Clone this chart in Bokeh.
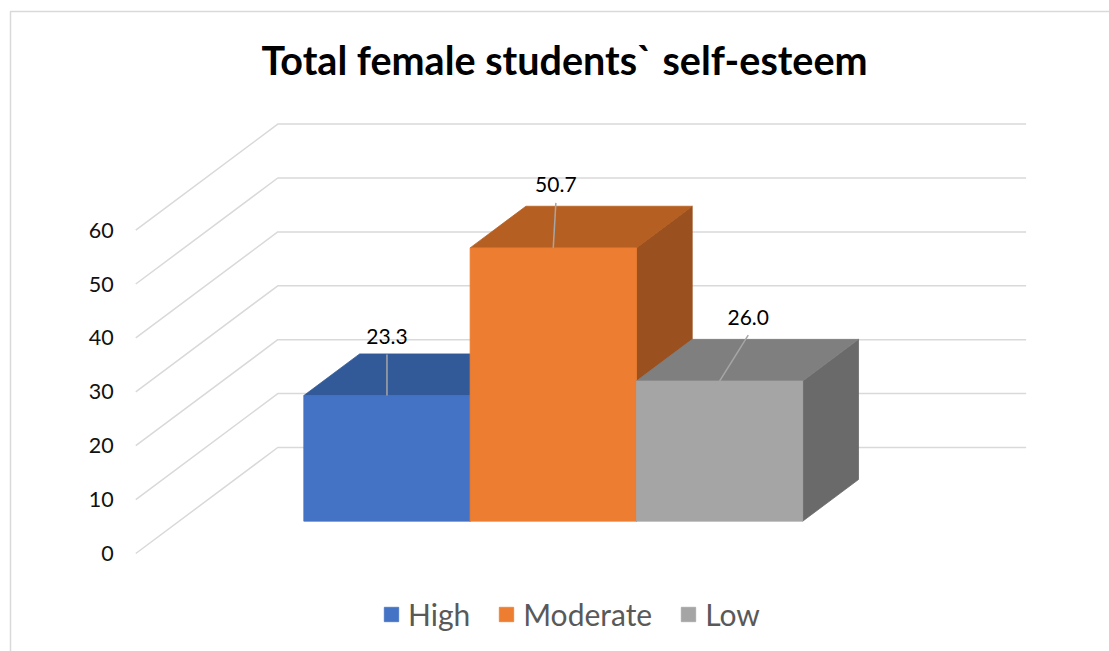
from bokeh.plotting import figure
from bokeh.models import Range1d, Legend, LegendItem
from bokeh.embed import file_html
from bokeh.resources import INLINE
from bokeh.core.properties import value

# ---------------- data ----------------
title_text = "Total female students` self-esteem"
series = ["High", "Moderate", "Low"]
values = [23.3, 50.7, 26.0]
value_labels = ["23.3", "50.7", "26.0"]
y_ticks = [0, 10, 20, 30, 40, 50, 60]
tick_labels = ["0", "10", "20", "30", "40", "50", "60"]

# ---------------- style ----------------
front_colors = ["#4472C4", "#ED7D31", "#A5A5A5"]
top_colors = ["#335A98", "#B55F22", "#7F7F7F"]
side_colors = ["#2B4C85", "#9A501F", "#6A6A6A"]
GRID = "#D9D9D9"
FONT = "Lato"

W, H = 1109, 651
BAR_PX = 166.3            # px per category unit
VAL_PX = 5.39             # px per value unit
ORX, ORY = 260.0, 553.0   # screen pos (from top-left) of u=0, v=0, z=0
DEPX, DEPY = 142.0, -106.0  # screen shift from front (z=0) to back wall (z=1)
U_LEFT, U_RIGHT = -0.75, 3.75
Z_F, Z_B = 0.305, 0.698   # bar front / back depth


def sx(px):
    return (px - ORX) / BAR_PX


def sy(py):
    return (ORY - py) / VAL_PX


def proj(u, v, z):
    return (u + z * DEPX / BAR_PX, v - z * DEPY / VAL_PX)


p = figure(width=W, height=H, output_backend="svg", toolbar_location=None,
           x_range=Range1d(sx(0), sx(W)), y_range=Range1d(sy(H), sy(0)),
           x_axis_type=None, y_axis_type=None, min_border=0,
           outline_line_color=None, background_fill_color="white",
           border_fill_color="white")
p.grid.visible = False

# chart area border (top and left visible)
p.line([sx(10), sx(10), sx(W + 5)], [sy(H + 5), sy(11), sy(11)],
       line_color=GRID, line_width=1.5)

# title
p.text([sx(564)], [sy(59)], text=[title_text], text_font=value(FONT),
       text_font_style="bold", text_font_size="39.5px", text_align="center",
       text_baseline="middle", text_color="black")

# gridlines: side wall + back wall
xs, ys = [], []
for t in y_ticks:
    a = proj(U_LEFT, t, 0)
    b = proj(U_LEFT, t, 1)
    c = proj(U_RIGHT, t, 1)
    xs.append([a[0], b[0], c[0]])
    ys.append([a[1], b[1], c[1]])
p.multi_line(xs, ys, line_color=GRID, line_width=1.5)

# tick labels at the front of the side wall
tx, ty = [], []
for t in y_ticks:
    a = proj(U_LEFT, t, 0)
    tx.append(a[0] - 22 / BAR_PX)
    ty.append(a[1])
p.text(tx, ty, text=tick_labels, text_font=value(FONT), text_font_size="21.5px",
       text_align="right", text_baseline="middle", text_color="#111111")

# bars
front_renderers = []
for i, v in enumerate(values):
    u0, u1 = i, i + 1
    # side face
    pts = [proj(u1, 0, Z_F), proj(u1, v, Z_F), proj(u1, v, Z_B), proj(u1, 0, Z_B)]
    p.patch([q[0] for q in pts], [q[1] for q in pts], fill_color=side_colors[i],
            line_color=side_colors[i], line_width=0.8)
    # top face
    pts = [proj(u0, v, Z_F), proj(u1, v, Z_F), proj(u1, v, Z_B), proj(u0, v, Z_B)]
    p.patch([q[0] for q in pts], [q[1] for q in pts], fill_color=top_colors[i],
            line_color=top_colors[i], line_width=0.8)
    # front face
    pts = [proj(u0, 0, Z_F), proj(u1, 0, Z_F), proj(u1, v, Z_F), proj(u0, v, Z_F)]
    r = p.patch([q[0] for q in pts], [q[1] for q in pts], fill_color=front_colors[i],
                line_color=front_colors[i], line_width=0.8)
    front_renderers.append(r)

# data labels with leader lines
label_off_px = [(0.0, -59.0), (2.6, -63.0), (28.7, -64.0)]
lx, ly, sx0, sy0, sx1, sy1 = [], [], [], [], [], []
for i, v in enumerate(values):
    a = proj(i + 0.5, v, Z_F)
    ox, oy = label_off_px[i]
    cx = a[0] + ox / BAR_PX
    cy = a[1] - oy / VAL_PX
    lx.append(cx)
    ly.append(cy)
    sx0.append(a[0])
    sy0.append(a[1])
    sx1.append(cx)
    sy1.append(cy - 18 / VAL_PX)
p.segment(sx0, sy0, sx1, sy1, line_color="#A6A6A6", line_width=1.5)
p.text(lx, ly, text=value_labels, text_font=value(FONT), text_font_size="21px",
       text_align="center", text_baseline="middle", text_color="black")

# legend
legend = Legend(items=[LegendItem(label=s, renderers=[front_renderers[i]])
                       for i, s in enumerate(series)],
                orientation="horizontal", location=(382, 19),
                glyph_width=18, glyph_height=18, label_standoff=8, spacing=27,
                padding=0, margin=0, border_line_color=None,
                background_fill_alpha=0, label_text_font=FONT,
                label_text_font_size="30px", label_text_color="#595959")
p.add_layout(legend)

open("out.html", "w").write(file_html(p, INLINE))
